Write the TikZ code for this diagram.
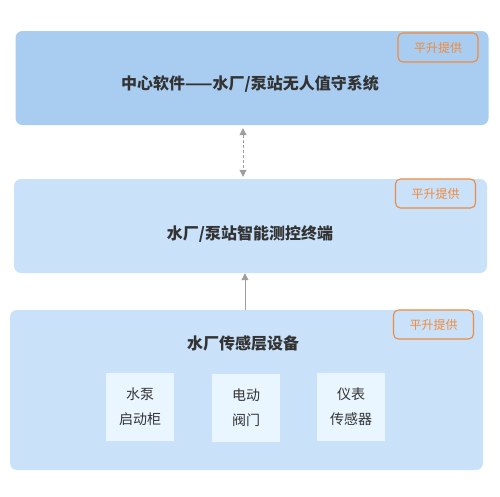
\documentclass[tikz,border=0pt]{standalone}
\usepackage{fontspec}
\setmainfont{Noto Sans CJK SC}
\usetikzlibrary{arrows.meta}
\definecolor{layerdark}{HTML}{A9CDF1}
\definecolor{layerlight}{HTML}{C9E2FA}
\definecolor{devfill}{HTML}{EAF6FF}
\definecolor{badgeorange}{HTML}{EF8A3E}
\definecolor{textgray}{HTML}{333333}
\definecolor{linkgray}{HTML}{9E9E9E}
\tikzset{
  layer/.style={rounded corners=7pt, minimum width=473pt, inner sep=0pt},
  badge/.style={draw=badgeorange, line width=1.1pt, rounded corners=5pt,
    minimum width=80pt, minimum height=29pt, text=badgeorange,
    font=\fontsize{12}{14}\selectfont},
  title/.style={text=textgray, font=\bfseries\fontsize{16}{19}\selectfont},
  device/.style={fill=devfill, minimum width=68pt, minimum height=68pt,
    text=textgray, align=center, font=\fontsize{14}{25}\selectfont},
  link/.style={draw=linkgray, line width=1pt, -{Triangle[length=7pt,width=7pt]}}
}
\begin{document}
\begin{tikzpicture}[x=1pt,y=-1pt]
\useasboundingbox (0,0) rectangle (500,496);
\node[layer, fill=layerdark, minimum height=94pt] (top) at (252,78) {};
\node[layer, fill=layerlight, minimum height=94pt] (mid) at (250.5,226) {};
\node[layer, fill=layerlight, minimum height=160pt] (bot) at (246.5,390) {};
\node[title] (toptitle) at (250,84) {中心软件——水厂/泵站无人值守系统};
\node[title] (midtitle) at (250,234) {水厂/泵站智能测控终端};
\node[title] (bottitle) at (243,343) {水厂传感层设备};
\node[badge] (topbadge) at (438,47.5) {平升提供};
\node[badge] (midbadge) at (435.5,193.5) {平升提供};
\node[badge] (botbadge) at (433.5,324.5) {平升提供};
\node[device] (pump) at (140,407) {水泵\\启动柜};
\node[device] (valve) at (246,408) {电动\\阀门};
\node[device] (sensor) at (351,407) {仪表\\传感器};
\draw[link, {Triangle[length=7pt,width=7pt]}-{Triangle[length=7pt,width=7pt]}, dash pattern=on 3pt off 2pt, shorten <=3pt, shorten >=2pt]
  ([xshift=-9pt]top.south) -- ([xshift=-7.5pt]mid.north);
\draw[link] ([xshift=-1.5pt]bot.north) -- ([xshift=-5.5pt]mid.south);
\end{tikzpicture}
\end{document}
